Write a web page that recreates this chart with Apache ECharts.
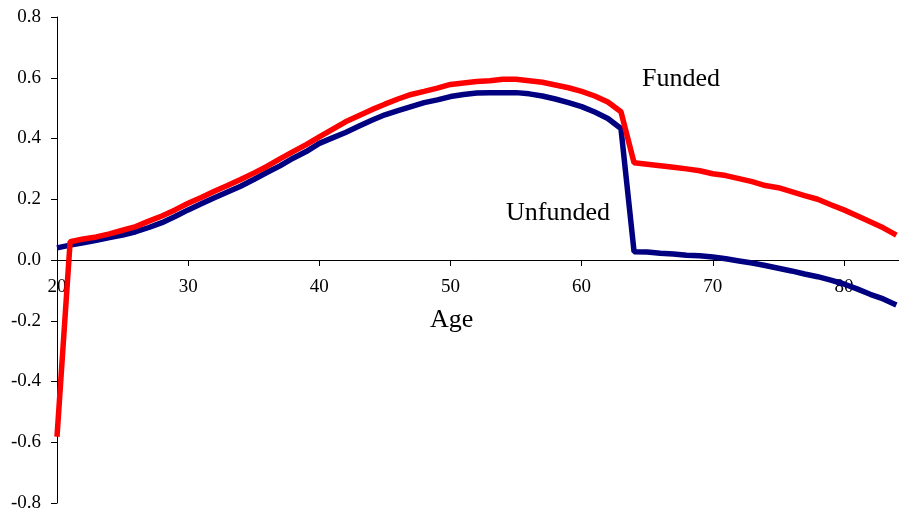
<!DOCTYPE html>
<html>
<head>
<meta charset="utf-8">
<script src="https://cdn.jsdelivr.net/npm/echarts@6/dist/echarts.min.js"></script>
<style>
html,body{margin:0;padding:0;background:#fff;}
#chart{width:899px;height:519px;}
</style>
</head>
<body>
<div id="chart"></div>
<script>
var ages = [];
for (var a = 20; a <= 84; a++) ages.push(a);

var unfunded = [
  0.040, 0.049, 0.057, 0.065, 0.074, 0.082, 0.093, 0.107, 0.123, 0.143,
  0.165, 0.185, 0.205, 0.224, 0.243, 0.265, 0.288, 0.310, 0.335, 0.357,
  0.384, 0.402, 0.420, 0.440, 0.460, 0.478, 0.492, 0.505, 0.518, 0.527,
  0.538, 0.545, 0.550, 0.551, 0.551, 0.551, 0.547, 0.540, 0.530, 0.518,
  0.505, 0.487, 0.466, 0.433, 0.027, 0.026, 0.022, 0.020, 0.016, 0.014,
  0.010, 0.004, -0.003, -0.010, -0.018, -0.027, -0.036, -0.046, -0.055, -0.066,
  -0.079, -0.095, -0.113, -0.128, -0.148
];

var funded = [
  -0.582, 0.060, 0.069, 0.076, 0.086, 0.098, 0.110, 0.128, 0.145, 0.165,
  0.187, 0.206, 0.226, 0.245, 0.265, 0.286, 0.308, 0.333, 0.357, 0.380,
  0.405, 0.430, 0.455, 0.475, 0.495, 0.513, 0.530, 0.545, 0.555, 0.566,
  0.578, 0.583, 0.588, 0.590, 0.595, 0.595, 0.590, 0.585, 0.576, 0.567,
  0.555, 0.540, 0.520, 0.488, 0.320, 0.315, 0.310, 0.305, 0.300, 0.294,
  0.284, 0.278, 0.268, 0.258, 0.245, 0.238, 0.225, 0.212, 0.200, 0.182,
  0.165, 0.146, 0.126, 0.106, 0.082
];

var xTicks = [20, 30, 40, 50, 60, 70, 80];
var seriesNames = ['Unfunded', 'Funded'];

function pairs(vals) {
  return ages.map(function (a, i) { return [a, vals[i]]; });
}

var font = 'Liberation Serif, Times New Roman, serif';
var chart = echarts.init(document.getElementById('chart'));
chart.setOption({
  animation: false,
  backgroundColor: '#fff',
  grid: { left: 57, right: 0, top: 17, bottom: 16, containLabel: false, outerBoundsMode: 'none' },
  xAxis: {
    type: 'value',
    min: 20, max: 84.2, interval: 10,
    offset: -243,
    axisLine: { onZero: false, lineStyle: { color: '#000', width: 1 } },
    axisTick: { show: true, inside: false, length: 6, customValues: xTicks, lineStyle: { color: '#000' } },
    axisLabel: {
      customValues: xTicks,
      margin: 18, color: '#000', fontFamily: font, fontSize: 19,
      formatter: function (v) { return (v % 10 === 0 && v <= 80) ? String(v) : ''; }
    },
    splitLine: { show: false }
  },
  yAxis: {
    type: 'value',
    min: -0.8, max: 0.8, interval: 0.2,
    axisLine: { show: true, onZero: false, lineStyle: { color: '#000', width: 1 } },
    axisTick: { show: true, inside: false, length: 6, lineStyle: { color: '#000' } },
    axisLabel: {
      margin: 16, color: '#000', fontFamily: font, fontSize: 19,
      formatter: function (v) { return v.toFixed(1); }
    },
    splitLine: { show: false }
  },
  series: [
    {
      name: seriesNames[0], type: 'line', data: pairs(unfunded),
      showSymbol: false, symbol: 'none',
      lineStyle: { color: '#000080', width: 5.5 }, z: 2
    },
    {
      name: seriesNames[1], type: 'line', data: pairs(funded),
      showSymbol: false, symbol: 'none',
      lineStyle: { color: '#ff0000', width: 5.5 }, z: 3
    }
  ],
  graphic: [
    { type: 'text', left: 642, top: 66, style: { text: 'Funded', font: '26px ' + font, fill: '#000' } },
    { type: 'text', left: 506, top: 200, style: { text: 'Unfunded', font: '26px ' + font, fill: '#000' } },
    { type: 'text', left: 430, top: 307, style: { text: 'Age', font: '26px ' + font, fill: '#000' } }
  ]
});
</script>
</body>
</html>
